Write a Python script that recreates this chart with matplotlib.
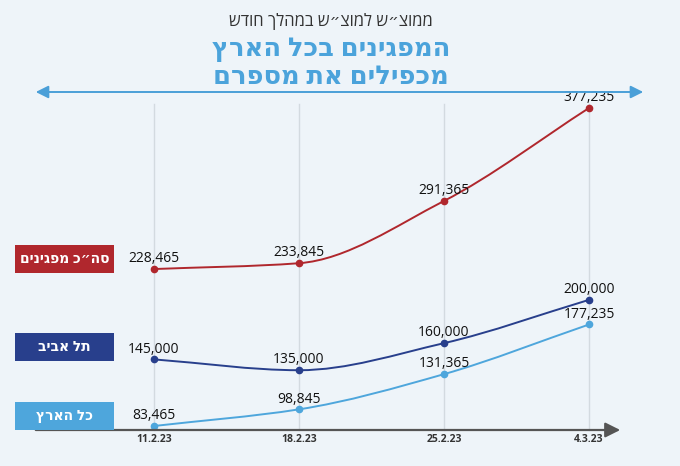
import matplotlib
matplotlib.use("Agg")
import matplotlib.pyplot as plt
from matplotlib.path import Path
from matplotlib.patches import PathPatch, Rectangle, FancyArrowPatch
import numpy as np

# ---- data ----
dates = ["11.2.23", "18.2.23", "25.2.23", "4.3.23"]
total = [228465, 233845, 291365, 377235]
tel_aviv = [145000, 135000, 160000, 200000]
country = [83465, 98845, 131365, 177235]
series_names = ["סה״כ מפגינים", "תל אביב", "כל הארץ"]
subtitle = "ממוצ״ש למוצ״ש במהלך חודש"
title1 = "המפגינים בכל הארץ"
title2 = "מכפילים את מספרם"

def rtl(s):
    # matplotlib lays text out left-to-right; reverse Hebrew for visual order
    return s[::-1]

W, H = 680, 466
BG = "#EEF4F9"
RED = "#B0272D"
DBLUE = "#283F8C"
LBLUE = "#4EA6DC"
FONT = ["Open Sans", "DejaVu Sans"]

fig = plt.figure(figsize=(W / 100, H / 100), dpi=100, facecolor=BG)
ax = fig.add_axes([0, 0, 1, 1])
ax.set_facecolor(BG)
ax.axis("off")

x0_px, dx_px = 154, 145
ref_v, ref_px, k = 83465, 426, 318 / 293770
ax.set_xlim(-x0_px / dx_px, (W - x0_px) / dx_px)
ax.set_ylim(ref_v - (H - ref_px) / k, ref_v + ref_px / k)

def fx(px):
    return px / W

def fy(py):
    return 1 - py / H

for i in range(len(dates)):
    ax.axvline(i, ymin=fy(430), ymax=fy(104), color="#D3DAE0", lw=1, zorder=1)

def monotone_path(xs, ys):
    xs = np.asarray(xs, float)
    ys = np.asarray(ys, float)
    n = len(xs)
    h = np.diff(xs)
    d = np.diff(ys) / h
    m = np.zeros(n)
    m[0], m[-1] = d[0], d[-1]
    for i in range(1, n - 1):
        if d[i - 1] * d[i] <= 0:
            m[i] = 0
        else:
            m[i] = 2 / (1 / d[i - 1] + 1 / d[i])
    verts = [(xs[0], ys[0])]
    codes = [Path.MOVETO]
    for i in range(n - 1):
        c1 = (xs[i] + h[i] / 3, ys[i] + m[i] * h[i] / 3)
        c2 = (xs[i + 1] - h[i] / 3, ys[i + 1] - m[i + 1] * h[i] / 3)
        verts += [c1, c2, (xs[i + 1], ys[i + 1])]
        codes += [Path.CURVE4] * 3
    return Path(verts, codes)

xs = np.arange(len(dates))
for vals, col in [(total, RED), (tel_aviv, DBLUE), (country, LBLUE)]:
    ax.add_patch(PathPatch(monotone_path(xs, vals), fill=False, edgecolor=col, lw=1.4, zorder=3))
    ax.plot(xs, vals, "o", color=col, ms=4.5, zorder=4)
    for x, v in zip(xs, vals):
        ax.annotate(f"{v:,}", (x, v), xytext=(0, 2), textcoords="offset points",
                    ha="center", va="bottom", fontsize=10, color="#111111",
                    family=FONT, zorder=5)

for i, d in enumerate(dates):
    ax.text(i, fy(440), d, transform=ax.get_xaxis_transform(), ha="center", va="center",
            fontsize=7.5, fontweight="bold", color="#333333", family=FONT)

fig.add_artist(FancyArrowPatch(
    (fx(33), fy(430)), (fx(623), fy(430)), transform=fig.transFigure,
    arrowstyle="-|>,head_length=6,head_width=3", color="#555555", lw=1.6,
    mutation_scale=1.5))

fig.add_artist(FancyArrowPatch(
    (fx(33), fy(92)), (fx(646), fy(92)), transform=fig.transFigure,
    arrowstyle="<|-|>,head_length=5,head_width=2.5", color="#4A9FD8", lw=1.4,
    mutation_scale=1.5))

boxes = [(245, 273, RED), (333, 361, DBLUE), (402, 430, LBLUE)]
for (top, bot, col), name in zip(boxes, series_names):
    fig.add_artist(Rectangle((fx(15), fy(bot)), fx(114) - fx(15), fy(top) - fy(bot),
                             transform=fig.transFigure, facecolor=col, edgecolor="none"))
    fig.text(fx(64.5), fy((top + bot) / 2), rtl(name), ha="center", va="center",
             fontsize=10, fontweight="bold", color="white", family=FONT)

fig.text(fx(331), fy(21), rtl(subtitle), ha="center", va="center",
         fontsize=12, color="#333333", family=FONT)
fig.text(fx(331), fy(49), rtl(title1), ha="center", va="center",
         fontsize=18.5, fontweight="bold", color="#4BA3DB", family=FONT)
fig.text(fx(331), fy(77), rtl(title2), ha="center", va="center",
         fontsize=18.5, fontweight="bold", color="#4BA3DB", family=FONT)

fig.savefig("out.png", dpi=100, facecolor=BG)
